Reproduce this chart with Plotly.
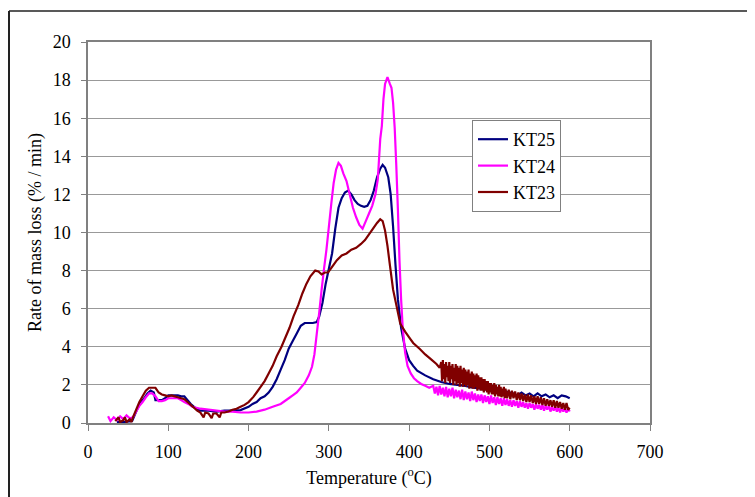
import plotly.graph_objects as go

# ---------------- data ----------------
x_kt25 = [36,45,55,58,62,66,70,74,78,82,84,88,92,96,100,104,108,112,116,120,124,128,132,136,140,150,160,170,180,190,
          200,205,210,215,220,225,230,235,240,245,250,255,260,265,270,275,280,285,288,292,296,300,304,308,312,316,320,
          324,328,332,336,340,344,348,352,356,360,364,367,370,374,377,380,383,386,390,395,400,405,410,420,430,440,450,
          460,470,480,490,500,510,520,530,535,540,545,550,555,560,565,570,575,580,585,590,595,600]
y_kt25 = [0.05,0.05,0.1,0.4,0.8,1.1,1.3,1.55,1.7,1.6,1.2,1.2,1.2,1.3,1.45,1.45,1.45,1.45,1.4,1.4,1.2,1.0,0.85,0.7,0.65,0.65,0.6,0.65,0.65,0.68,
          0.85,1.0,1.1,1.3,1.4,1.6,1.9,2.3,2.8,3.3,3.9,4.3,4.7,5.1,5.25,5.25,5.25,5.3,5.6,6.3,7.3,8.1,8.9,10.2,11.3,11.8,12.1,
          12.2,12.0,11.7,11.5,11.4,11.35,11.4,11.7,12.2,12.9,13.35,13.55,13.4,12.9,12.0,10.3,8.3,6.5,5.0,3.9,3.3,3.0,2.75,2.5,2.3,2.15,2.05,
          2.0,1.95,1.85,1.8,1.75,1.7,1.65,1.55,1.45,1.6,1.45,1.55,1.4,1.55,1.4,1.5,1.35,1.45,1.3,1.45,1.4,1.3]

x_kt24 = ([25,28,32,36,40,44,48,52,56,60,64,68,72,76,80,84,88,92,96,100,104,108,112,116,120,125,130,135,140,150,160,170,180,190,200,
           210,220,230,240,250,255,260,265,270,275,279,282,285,288,291,294,297,300,303,306,309,312,315,318,322,326,330,334,338,342,
           346,350,354,358,361,364,366,368,370,373,376,378,380,382,384,386,388,390,392,395,398,402,406,410,415,420,425]
          + list(range(430, 601, 2)))
y_kt24 = [0.35,0.1,0.3,0.15,0.35,0.2,0.4,0.25,0.3,0.6,0.9,1.1,1.35,1.55,1.55,1.4,1.15,1.15,1.2,1.3,1.3,1.3,1.3,1.2,1.1,1.0,0.85,0.8,0.75,0.7,0.65,0.6,0.6,0.55,0.55,
          0.6,0.7,0.85,1.0,1.3,1.45,1.6,1.85,2.1,2.5,2.95,3.6,4.7,5.8,7.0,8.1,9.1,10.3,11.5,12.6,13.3,13.65,13.5,13.1,12.7,12.0,11.3,10.8,10.4,10.2,
          10.6,11.0,11.4,12.0,12.8,14.9,15.6,17.0,17.8,18.15,17.8,17.6,16.8,15.5,13.5,11.2,8.5,6.5,5.0,3.7,3.0,2.6,2.35,2.2,2.05,1.95,1.85,
          1.95,1.55,1.9,1.45,1.95,1.5,1.85,1.4,1.9,1.35,
          1.8,1.4,1.85,1.3,1.75,1.35,1.7,1.25,1.75,1.2,
          1.65,1.25,1.6,1.15,1.65,1.2,1.55,1.1,1.5,1.15,
          1.5,1.05,1.45,1.1,1.4,1.0,1.45,1.05,1.35,0.95,
          1.35,1.0,1.3,0.9,1.3,0.95,1.25,0.9,1.2,0.85,
          1.2,0.9,1.15,0.8,1.15,0.85,1.1,0.8,1.05,0.75,
          1.05,0.8,1.0,0.7,1.0,0.75,0.95,0.7,0.95,0.65,
          0.9,0.7,0.9,0.6,0.85,0.65,0.85,0.6,0.8,0.55,
          0.8,0.6,0.75,0.55,0.75,0.6]

x_kt23 = ([34,38,40,44,46,48,52,54,56,60,64,68,72,76,80,84,88,92,96,100,104,108,112,116,120,124,128,132,136,140,144,146,150,154,156,160,
           164,166,170,175,180,185,190,195,200,206,210,215,220,225,230,235,241,246,251,256,262,267,272,277,283,287,291,295,299,304,310,
           316,322,328,334,340,345,350,355,360,364,367,370,373,376,380,384,389,395,400,405,413,420,427,434,438]
          + list(range(440, 520)) + list(range(520, 601, 2)))
y_kt23 = [0.1,0.3,0.05,0.15,0.3,0.05,0.2,0.05,0.3,0.7,1.1,1.4,1.7,1.85,1.85,1.85,1.6,1.5,1.45,1.4,1.45,1.4,1.35,1.3,1.25,1.1,0.95,0.8,0.65,0.55,0.3,0.55,0.5,0.25,0.5,0.5,
          0.3,0.55,0.55,0.6,0.7,0.75,0.85,0.95,1.1,1.37,1.6,1.9,2.2,2.6,3.0,3.5,4.0,4.5,5.0,5.6,6.2,6.8,7.3,7.7,8.0,7.95,7.8,7.9,7.9,8.2,8.55,
          8.8,8.9,9.1,9.2,9.4,9.6,9.9,10.2,10.5,10.7,10.6,10.1,9.3,8.3,7.0,6.2,5.2,4.8,4.5,4.2,3.9,3.6,3.35,3.1,2.9,
          3.2,2.2,3.3,2.3,3.1,2.1,3.2,2.4,3.0,2.2,
          3.2,2.1,3.0,2.3,3.1,2.0,2.9,2.2,3.1,2.0,
          3.0,2.1,2.9,1.9,3.0,2.1,2.8,1.9,2.9,2.0,
          2.8,1.9,2.7,2.0,2.8,1.8,2.6,1.9,2.7,1.8,
          2.6,1.8,2.5,1.9,2.6,1.7,2.5,1.8,2.4,1.7,
          2.4,1.7,2.3,1.6,2.3,1.7,2.2,1.6,2.2,1.5,
          2.1,1.6,2.1,1.5,2.0,1.5,2.1,1.4,2.0,1.5,
          1.9,1.4,2.0,1.4,1.9,1.35,1.8,1.4,1.9,1.3,
          1.8,1.3,1.75,1.25,1.7,1.3,1.65,1.2,1.6,1.2,
          1.55,1.15,1.5,1.1,1.5,1.1,1.45,1.05,1.4,1.0,
          1.4,1.0,1.35,0.95,1.3,0.9,1.25,0.9,1.2,0.85,
          1.2,0.8,1.15,0.8,1.1,0.75,1.05,0.7,1.05,0.7,
          0.8]

series_names = ["KT25", "KT24", "KT23"]
series_colors = ["#000080", "#FF00FF", "#800000"]
x_ticks = [0, 100, 200, 300, 400, 500, 600, 700]
y_ticks = [0, 2, 4, 6, 8, 10, 12, 14, 16, 18, 20]

FONT = "Liberation Serif, Times New Roman, serif"

fig = go.Figure()
for name, xs, ys, col in zip(series_names,
                             [x_kt25, x_kt24, x_kt23],
                             [y_kt25, y_kt24, y_kt23],
                             series_colors):
    fig.add_trace(go.Scatter(x=xs, y=ys, mode="lines", name=name,
                             line=dict(color=col, width=2.2, simplify=False)))

# the page body adds an 8px offset; figure coords = page coords - 8
OFF = 8
W, H = 755 - OFF, 497 - OFF
L, R, T, B = 88 - OFF, 650 - OFF, 42 - OFF, 423 - OFF
pw, ph = R - L, B - T

fig.update_layout(
    width=W, height=H,
    margin=dict(l=L, r=W - R, t=T, b=H - B, pad=0, autoexpand=False),
    paper_bgcolor="white", plot_bgcolor="white",
    font=dict(family=FONT, size=18, color="black"),
    showlegend=True,
    legend=dict(x=(472 - OFF - L) / pw, y=(B - (120 - OFF)) / ph, xanchor="left", yanchor="top",
                bgcolor="white", bordercolor="#808080", borderwidth=1,
                font=dict(family=FONT, size=18), tracegroupgap=0),
    xaxis=dict(range=[0, 700], tickvals=x_ticks, showgrid=False, zeroline=False,
               showline=True, linecolor="#808080", linewidth=1.5, mirror=True,
               ticks="outside", ticklen=6, tickcolor="#808080", ticklabelstandoff=6,
               title=dict(text="Temperature (<sup>o</sup>C)", standoff=10,
                          font=dict(family=FONT, size=18))),
    yaxis=dict(range=[0, 20], tickvals=y_ticks, showgrid=True, gridcolor="#999999", gridwidth=1,
               zeroline=False, showline=True, linecolor="#808080", linewidth=1.5, mirror=True,
               ticks="outside", ticklen=5, tickcolor="#808080", ticklabelstandoff=7,
               title=dict(text="Rate of mass loss (% / min)", standoff=6,
                          font=dict(family=FONT, size=18))),
)

# outer frame of the original figure: left edge and top edge
fig.add_shape(type="line", xref="paper", yref="paper",
              x0=(1 - L) / pw, x1=(1 - L) / pw,
              y0=(B - (H + 20)) / ph, y1=(B - (11 - OFF)) / ph,
              line=dict(color="#222222", width=2), layer="above")
fig.add_shape(type="line", xref="paper", yref="paper",
              x0=(1 - L) / pw, x1=(W + 20 - L) / pw,
              y0=(B - (11 - OFF)) / ph, y1=(B - (11 - OFF)) / ph,
              line=dict(color="#222222", width=1.5), layer="above")

fig.write_html("out.html")
